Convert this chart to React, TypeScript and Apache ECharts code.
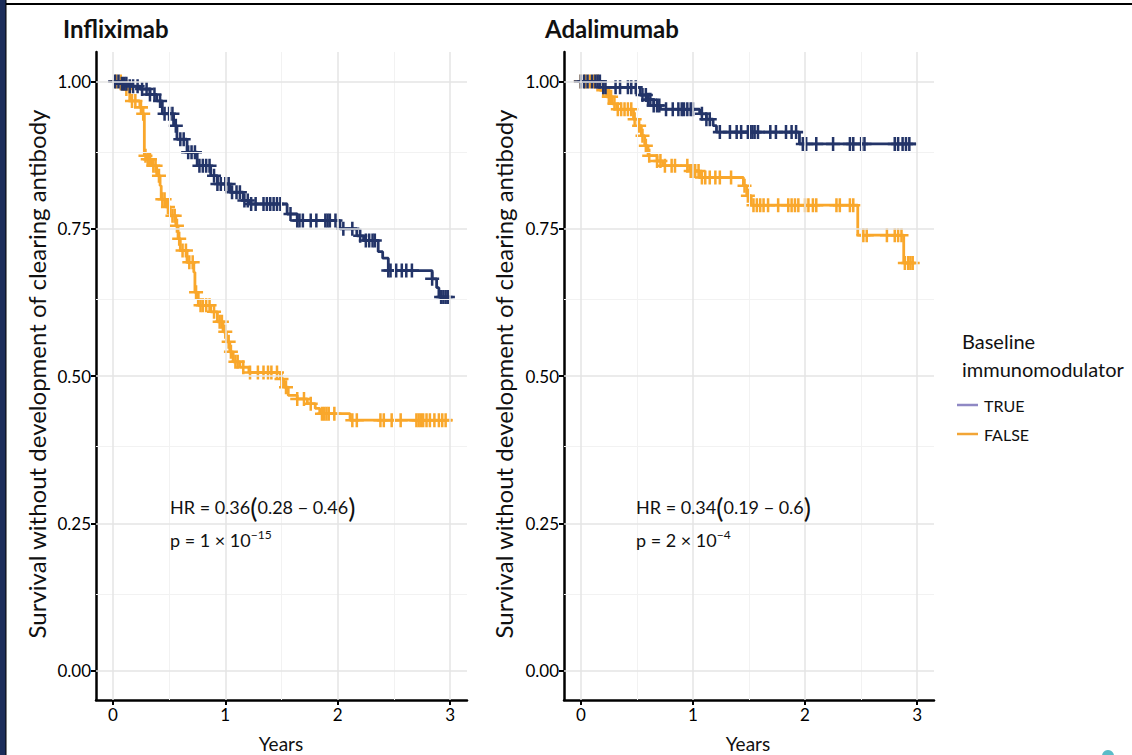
import React, { useEffect, useRef } from "react";
import * as echarts from "echarts";

const FONT = "Lato, 'Open Sans', sans-serif";

const X_TICKS = [0, 1, 2, 3];
const Y_TICKS = [0, 0.25, 0.5, 0.75, 1];
const X_MINOR = [0.5, 1.5, 2.5];
const Y_MINOR = [0.125, 0.375, 0.625, 0.875];

const NAVY = "#233468";
const ORANGE = "#f9a72b";

// Infliximab, immunomodulator TRUE
const inflixTrueT = [0, 0.08, 0.15, 0.24, 0.33, 0.39, 0.44, 0.54, 0.57, 0.66, 0.75, 0.87, 0.93, 1.04, 1.16, 1.22, 1.55, 1.64, 2.02, 2.17, 2.23, 2.36, 2.4, 2.45, 2.84, 2.88, 2.9];
const inflixTrueS = [1, 0.996, 0.992, 0.987, 0.978, 0.967, 0.945, 0.925, 0.902, 0.88, 0.857, 0.84, 0.826, 0.812, 0.798, 0.792, 0.775, 0.764, 0.75, 0.738, 0.73, 0.711, 0.7, 0.679, 0.665, 0.65, 0.634];
const inflixTrueEnd = 3.0;
const inflixTrueCensor = [0.02, 0.05, 0.08, 0.1, 0.12, 0.15, 0.18, 0.22, 0.26, 0.3, 0.33, 0.37, 0.42, 0.46, 0.5, 0.53, 0.56, 0.6, 0.63, 0.67, 0.7, 0.73, 0.77, 0.8, 0.83, 0.86, 0.9, 0.93, 0.96, 1.0, 1.03, 1.06, 1.1, 1.13, 1.17, 1.2, 1.23, 1.27, 1.34, 1.37, 1.4, 1.43, 1.46, 1.49, 1.58, 1.64, 1.66, 1.69, 1.76, 1.81, 1.89, 1.91, 1.93, 1.98, 2.05, 2.13, 2.2, 2.25, 2.28, 2.31, 2.33, 2.45, 2.47, 2.52, 2.57, 2.61, 2.66, 2.84, 2.92, 2.94, 2.96, 2.98];

// Infliximab, immunomodulator FALSE
const inflixFalseT = [0, 0.09, 0.15, 0.24, 0.26, 0.28, 0.3, 0.35, 0.39, 0.42, 0.43, 0.47, 0.51, 0.56, 0.58, 0.6, 0.66, 0.72, 0.73, 0.76, 0.87, 0.93, 0.98, 1.01, 1.04, 1.07, 1.13, 1.21, 1.49, 1.52, 1.56, 1.64, 1.73, 1.8, 1.84, 2.11];
const inflixFalseS = [1, 0.987, 0.967, 0.956, 0.945, 0.874, 0.868, 0.857, 0.84, 0.823, 0.8, 0.787, 0.772, 0.755, 0.733, 0.713, 0.693, 0.676, 0.642, 0.62, 0.609, 0.592, 0.575, 0.558, 0.541, 0.524, 0.515, 0.506, 0.495, 0.481, 0.467, 0.461, 0.453, 0.445, 0.436, 0.425];
const inflixFalseEnd = 3.02;
const inflixFalseCensor = [0.03, 0.07, 0.12, 0.17, 0.2, 0.25, 0.27, 0.29, 0.31, 0.33, 0.36, 0.38, 0.41, 0.44, 0.46, 0.49, 0.53, 0.55, 0.57, 0.59, 0.62, 0.65, 0.68, 0.71, 0.74, 0.78, 0.8, 0.83, 0.86, 0.9, 0.95, 0.97, 1.0, 1.03, 1.05, 1.09, 1.11, 1.16, 1.22, 1.29, 1.34, 1.38, 1.41, 1.46, 1.5, 1.54, 1.64, 1.7, 1.76, 1.86, 1.88, 1.9, 1.92, 1.97, 2.13, 2.17, 2.38, 2.41, 2.48, 2.56, 2.7, 2.72, 2.74, 2.76, 2.79, 2.82, 2.86, 2.9, 2.93, 2.96];

// Adalimumab, immunomodulator TRUE
const adaTrueT = [0, 0.2, 0.53, 0.59, 0.65, 0.71, 1.06, 1.12, 1.18, 1.21, 1.95];
const adaTrueS = [1, 0.99, 0.977, 0.969, 0.959, 0.953, 0.945, 0.936, 0.925, 0.914, 0.894];
const adaTrueEnd = 2.99;
const adaTrueCensor = [0.0, 0.03, 0.06, 0.1, 0.13, 0.15, 0.17, 0.2, 0.22, 0.31, 0.35, 0.42, 0.45, 0.49, 0.55, 0.58, 0.6, 0.62, 0.65, 0.68, 0.7, 0.76, 0.82, 0.87, 0.9, 0.92, 0.95, 0.98, 1.0, 1.08, 1.12, 1.15, 1.24, 1.33, 1.39, 1.43, 1.49, 1.51, 1.53, 1.55, 1.58, 1.69, 1.74, 1.83, 1.88, 1.92, 1.98, 2.01, 2.1, 2.25, 2.4, 2.43, 2.5, 2.53, 2.8, 2.83, 2.87, 2.9, 2.93];

// Adalimumab, immunomodulator FALSE
const adaFalseT = [0, 0.17, 0.23, 0.28, 0.32, 0.47, 0.51, 0.54, 0.57, 0.6, 0.68, 0.73, 0.97, 1.06, 1.45, 1.48, 1.52, 2.47, 2.88];
const adaFalseS = [1, 0.985, 0.974, 0.962, 0.953, 0.936, 0.925, 0.908, 0.891, 0.874, 0.865, 0.857, 0.848, 0.837, 0.823, 0.806, 0.79, 0.739, 0.692];
const adaFalseEnd = 2.97;
const adaFalseCensor = [0.0, 0.04, 0.08, 0.12, 0.15, 0.2, 0.25, 0.27, 0.3, 0.33, 0.36, 0.39, 0.42, 0.45, 0.48, 0.52, 0.55, 0.58, 0.61, 0.68, 0.71, 0.75, 0.81, 0.84, 0.95, 0.98, 1.0, 1.02, 1.05, 1.08, 1.11, 1.15, 1.2, 1.24, 1.34, 1.46, 1.49, 1.54, 1.57, 1.6, 1.63, 1.67, 1.76, 1.85, 1.88, 1.91, 1.94, 2.0, 2.03, 2.07, 2.1, 2.28, 2.31, 2.4, 2.43, 2.52, 2.55, 2.73, 2.8, 2.83, 2.86, 2.89, 2.92, 2.94, 2.96];

const PLUS = "path://M-1,-0.18H1V0.18H-1Z M-0.18,-1H0.18V1H-0.18Z";

function stepData(T: number[], S: number[], end: number) {
  const d = T.map((t, i) => [t, S[i]]);
  d.push([end, S[S.length - 1]]);
  return d;
}
function censorData(T: number[], S: number[], C: number[]) {
  return C.map((c) => {
    let v = S[0];
    for (let i = 0; i < T.length; i++) if (T[i] <= c) v = S[i];
    return [c, v];
  });
}

function axes(gi: number) {
  const xAxis = {
    gridIndex: gi, type: "value", min: -0.15, max: 3.15,
    axisLine: { show: true, onZero: false, lineStyle: { color: "#000", width: 2.5 } },
    axisTick: { show: true, customValues: X_TICKS, length: 5, lineStyle: { color: "#000", width: 2 } },
    axisLabel: { customValues: X_TICKS, formatter: (v: number) => String(v), fontSize: 17, color: "#000", margin: 6, fontFamily: FONT },
    splitLine: { show: false },
  };
  const yAxis = {
    gridIndex: gi, type: "value", min: -0.05, max: 1.05,
    axisLine: { show: true, onZero: false, lineStyle: { color: "#000", width: 2.5 } },
    axisTick: { show: true, customValues: Y_TICKS, length: 5, lineStyle: { color: "#000", width: 2 } },
    axisLabel: { customValues: Y_TICKS, formatter: (v: number) => v.toFixed(2), fontSize: 17, color: "#000", margin: 5, fontFamily: FONT },
    splitLine: { show: false },
  };
  return { xAxis, yAxis };
}

function gridSeries(gi: number) {
  const major = { color: "#e4e4e4", width: 1.5, type: "solid" };
  const minor = { color: "#f2f2f2", width: 1, type: "solid" };
  return {
    type: "line", xAxisIndex: gi, yAxisIndex: gi, data: [], z: 1, silent: true,
    markLine: {
      silent: true, symbol: ["none", "none"], label: { show: false }, animation: false,
      data: [
        ...X_MINOR.map((v) => ({ xAxis: v, lineStyle: minor })),
        ...Y_MINOR.map((v) => ({ yAxis: v, lineStyle: minor })),
        ...X_TICKS.map((v) => ({ xAxis: v, lineStyle: major })),
        ...Y_TICKS.map((v) => ({ yAxis: v, lineStyle: major })),
      ],
    },
  };
}

function kmSeries(gi: number, T: number[], S: number[], end: number, C: number[], color: string) {
  return [
    {
      type: "line", step: "end", xAxisIndex: gi, yAxisIndex: gi, z: 3,
      data: stepData(T, S, end), showSymbol: false, symbol: "none",
      lineStyle: { color, width: 2.8 }, silent: true,
    },
    {
      type: "scatter", xAxisIndex: gi, yAxisIndex: gi, z: 4,
      data: censorData(T, S, C), symbol: PLUS, symbolSize: 14,
      itemStyle: { color, opacity: 1 }, silent: true,
    },
  ];
}

export default function App() {
  const ref = useRef<HTMLDivElement>(null);
  useEffect(() => {
    const chart = echarts.init(ref.current!, null, { renderer: "svg" });
    const a0 = axes(0);
    const a1 = axes(1);
    const txt = (x: number, y: number, text: string, size: number, extra: any = {}) => ({
      type: "text", x, y, z: 100,
      style: { text, fontSize: size, fontFamily: FONT, fill: "#111", verticalAlign: "middle", ...extra },
    });
    const hrRich = {
      p: { fontSize: 27, fontFamily: FONT, fill: "#111" },
      s: { fontSize: 12, fontFamily: FONT, fill: "#111", padding: [0, 0, 11, 0] },
    };
    const yTitle = (x: number) => ({
      type: "text", x, y: 374, z: 100, rotation: Math.PI / 2,
      style: { text: "Survival without development of clearing antibody", fontSize: 24, fontFamily: FONT, fill: "#111", align: "center", verticalAlign: "middle" },
    });
    const option = {
      animation: false,
      backgroundColor: "#fff",
      grid: [
        { left: 96, top: 52, width: 371, height: 648 },
        { left: 564, top: 52, width: 370, height: 648 },
      ],
      xAxis: [a0.xAxis, a1.xAxis],
      yAxis: [a0.yAxis, a1.yAxis],
      series: [
        gridSeries(0),
        gridSeries(1),
        ...kmSeries(0, inflixFalseT, inflixFalseS, inflixFalseEnd, inflixFalseCensor, ORANGE),
        ...kmSeries(0, inflixTrueT, inflixTrueS, inflixTrueEnd, inflixTrueCensor, NAVY),
        ...kmSeries(1, adaFalseT, adaFalseS, adaFalseEnd, adaFalseCensor, ORANGE),
        ...kmSeries(1, adaTrueT, adaTrueS, adaTrueEnd, adaTrueCensor, NAVY),
      ],
      graphic: [
        { type: "rect", z: 100, shape: { x: 0, y: 0, width: 6, height: 755 }, style: { fill: "#1c2d5a" } },
        { type: "line", z: 100, shape: { x1: 6, y1: 0, x2: 6, y2: 755 }, style: { stroke: "#000", lineWidth: 1 } },
        { type: "line", z: 100, shape: { x1: 6, y1: 4, x2: 1132, y2: 4 }, style: { stroke: "#000", lineWidth: 2 } },
        txt(63, 28, "Infliximab", 24, { fontWeight: "bold" }),
        txt(545, 28, "Adalimumab", 24, { fontWeight: "bold" }),
        yTitle(36),
        yTitle(503),
        txt(281, 743, "Years", 19, { align: "center" }),
        txt(748, 743, "Years", 19, { align: "center" }),
        txt(170, 507, "HR = 0.36{p|(}0.28 − 0.46{p|)}", 18, { rich: hrRich }),
        txt(170, 540, "p = 1 × 10{s|−15}", 18, { rich: hrRich }),
        txt(636, 507, "HR = 0.34{p|(}0.19 − 0.6{p|)}", 18, { rich: hrRich }),
        txt(636, 540, "p = 2 × 10{s|−4}", 18, { rich: hrRich }),
        txt(962, 341, "Baseline", 20),
        txt(962, 369, "immunomodulator", 20),
        { type: "line", z: 100, shape: { x1: 957, y1: 405, x2: 978, y2: 405 }, style: { stroke: "#8f88c4", lineWidth: 2.5 } },
        txt(984, 405, "TRUE", 16),
        { type: "line", z: 100, shape: { x1: 957, y1: 434, x2: 978, y2: 434 }, style: { stroke: "#f2a536", lineWidth: 2.5 } },
        txt(984, 434, "FALSE", 16),
        { type: "circle", z: 100, shape: { cx: 1108, cy: 756, r: 6 }, style: { fill: "#5bbcc8" } },
      ],
    };
    chart.setOption(option as any);
    return () => chart.dispose();
  }, []);
  return <div ref={ref} style={{ position: "fixed", left: 0, top: 0, width: 1132, height: 755 }} />;
}
